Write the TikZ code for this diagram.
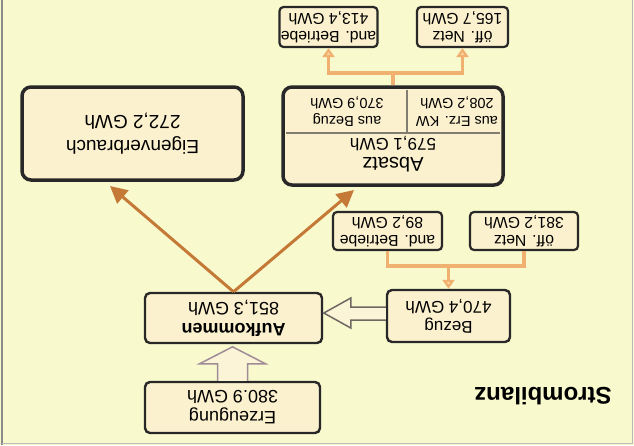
\documentclass[tikz,border=0pt]{standalone}
\usepackage{fontspec}
\setmainfont{Liberation Sans}
\usetikzlibrary{arrows.meta,calc}
\definecolor{bg}{RGB}{249,249,206}
\definecolor{boxfill}{RGB}{252,241,206}
\definecolor{boxline}{RGB}{40,40,40}
\definecolor{bigarr}{RGB}{196,122,54}
\definecolor{brk}{RGB}{240,176,112}
\definecolor{brklight}{RGB}{250,214,168}
\definecolor{hollowline}{RGB}{110,104,100}
\definecolor{hollowup}{RGB}{160,140,150}
\definecolor{hollowfill}{RGB}{252,244,214}
\definecolor{framecol}{RGB}{140,140,140}
\definecolor{divcol}{RGB}{130,125,115}
\tikzset{
  box/.style={draw=boxline, fill=boxfill, rotate=180, inner sep=0pt, align=center},
  smallbox/.style={box, line width=2.2pt, rounded corners=4pt, font=\fontsize{15.8}{17.5}\selectfont},
  midbox/.style={box, line width=2.4pt, rounded corners=5pt, font=\fontsize{18}{21}\selectfont},
  bigbox/.style={box, line width=3.5pt, rounded corners=9pt},
  txt/.style={rotate=180, align=center, inner sep=0pt},
  bigarrow/.style={draw=bigarr, line width=3pt, -{Triangle[length=17pt,width=17pt]}},
  bracket/.style={draw=brk, line width=3.5pt},
  brarrow/.style={bracket, -{Triangle[length=9pt,width=12pt,fill=brklight]}},
  hollow/.style={draw=hollowline, fill=hollowfill, line width=1.5pt, line join=miter}
}
\begin{document}
\begin{tikzpicture}[x=1pt,y=-1pt]
\useasboundingbox (0,0) rectangle (634,445);
\fill[bg] (0,0) rectangle (634,445);
\draw[framecol, line width=2pt] (2,0) -- (2,445);
\draw[framecol!60, line width=1pt] (2,443) -- (632.5,443) -- (632.5,0);

% boxes
\node[midbox, minimum width=175pt, minimum height=51pt] (erz) at (232.5,407.5) {Erzeugung\\380.9 GWh};
\node[midbox, minimum width=177pt, minimum height=50pt] (auf) at (233.5,318) {\textbf{Aufkommen}\\851,3 GWh};
\node[midbox, font=\fontsize{17}{20}\selectfont, minimum width=123pt, minimum height=52pt] (bez) at (448.5,316) {Bezug\\470,4 GWh};
\node[smallbox, minimum width=108pt, minimum height=38pt] (netz1) at (524,231) {öff. Netz\\381,2 GWh};
\node[smallbox, minimum width=109pt, minimum height=38pt] (betr1) at (387.5,231) {and. Betriebe\\89,2 GWh};
\node[bigbox, minimum width=220pt, minimum height=98pt] (abs) at (393,136) {};
\node[bigbox, minimum width=221pt, minimum height=93pt, font=\fontsize{19}{25}\selectfont] (eig) at (132.5,133.5) {Eigenverbrauch\\272,2 GWh};
\node[smallbox, minimum width=91pt, minimum height=40pt] (netz2) at (462.5,27) {öff. Netz\\165,7 GWh};
\node[smallbox, minimum width=98pt, minimum height=40pt] (betr2) at (328.5,27) {and. Betriebe\\413,4 GWh};

% Absatz inner layout
\draw[divcol, line width=1.2pt] (286,133) -- (500,133);
\draw[divcol, line width=1.2pt] (407,89.5) -- (407,133);
\node[txt, font=\fontsize{17}{19}\selectfont] (abst) at (393,154) {{\fontsize{20}{20}\selectfont Absatz}\\579,1 GWh};
\node[txt, font=\fontsize{14.5}{18}\selectfont] (subl) at (347,112) {aus Bezug\\370,9 GWh};
\node[txt, font=\fontsize{14.5}{18}\selectfont] (subr) at (457,112) {aus Erz. KW\\208,2 GWh};

% title
\node[txt, font=\fontsize{24}{24}\selectfont\bfseries] (title) at (543,396) {Strombilanz};

% big arrows
\coordinate (absTip) at (354,190);
\coordinate (eigTip) at (110,186);
\draw[bigarrow] (auf.south) -- (absTip);
\draw[bigarrow] (auf.south) -- (eigTip);

% hollow arrows
\draw[hollow, draw=hollowup] ($(erz.south)+(-15,0)$) -- ($(erz.south)+(-15,-17)$) -- ($(erz.south)+(-33,-17)$) -- ($(erz.south)+(0,-34)$) -- ($(erz.south)+(33,-17)$) -- ($(erz.south)+(15,-17)$) -- ($(erz.south)+(15,0)$);
\draw[hollow] ($(bez.east)+(0,-9)$) -- ($(bez.east)+(-35,-9)$) -- ($(bez.east)+(-35,-18)$) -- ($(bez.east)+(-62,-3)$) -- ($(bez.east)+(-35,12)$) -- ($(bez.east)+(-35,4)$) -- ($(bez.east)+(0,4)$);

% brackets
\coordinate (j1) at (448.5,266);
\draw[bracket] (betr1.north) |- (j1) -| (netz1.north);
\draw[brarrow] (j1) -- (bez.south);
\coordinate (j2) at (393,73);
\draw[bracket] (abs.south) -- (j2);
\draw[brarrow] (j2) -| (betr2.north);
\draw[brarrow] (j2) -| (netz2.north);
\end{tikzpicture}
\end{document}
